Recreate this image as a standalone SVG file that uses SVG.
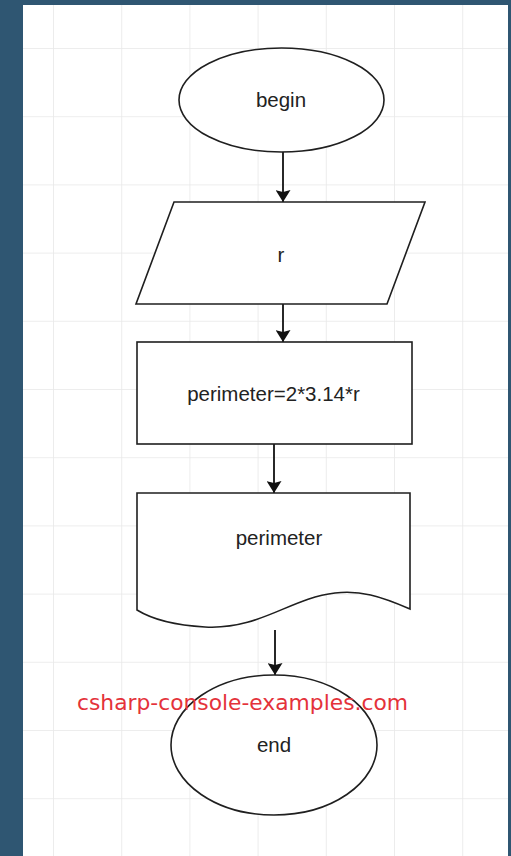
<svg xmlns="http://www.w3.org/2000/svg" width="511" height="856" viewBox="0 0 511 856">
  <defs>
    <pattern id="grid" x="53" y="48" width="68.2" height="68.2" patternUnits="userSpaceOnUse">
      <path d="M0 0V68.2M0 0H68.2" fill="none" stroke="#e8e8e8" stroke-width="1.6"/>
    </pattern>
    <marker id="arrow" viewBox="0 0 12 15" refX="12" refY="7.5" markerWidth="12" markerHeight="15" markerUnits="userSpaceOnUse" orient="auto">
      <path d="M0 0L12 7.5L0 15L2 7.5Z" fill="#111"/>
    </marker>
  </defs>
  <style>
    .shape { fill: #fff; stroke: #1f1f1f; stroke-width: 1.6; }
    .label { font-family: "Liberation Sans", Arial, sans-serif; font-size: 20.5px; fill: #222; text-anchor: middle; }
    .edge { stroke: #111; stroke-width: 1.8; fill: none; marker-end: url(#arrow); }
    .mark { font-family: "DejaVu Sans", "Liberation Sans", sans-serif; font-size: 21px; fill: #e4323a; }
  </style>

  <!-- frame and canvas -->
  <rect width="511" height="856" fill="#2f5672"/>
  <rect x="23" y="5" width="485" height="851" fill="#fff"/>
  <rect x="23" y="5" width="485" height="851" fill="url(#grid)"/>

  <!-- connectors -->
  <g id="connectors">
    <line class="edge" x1="283" y1="152" x2="283" y2="202"/>
    <line class="edge" x1="283" y1="304" x2="283" y2="342"/>
    <line class="edge" x1="274" y1="444" x2="274" y2="493"/>
    <line class="edge" x1="275" y1="630" x2="275" y2="675"/>
  </g>

  <g id="begin">
    <ellipse class="shape" cx="281.5" cy="100" rx="102.5" ry="52"/>
    <text class="label" x="281" y="107">begin</text>
  </g>

  <g id="input-r">
    <polygon class="shape" points="174,202 425,202 387,304 136,304"/>
    <text class="label" x="281" y="262">r</text>
  </g>

  <g id="compute">
    <rect class="shape" x="137" y="342" width="275" height="102"/>
    <text class="label" x="273.5" y="401">perimeter=2*3.14*r</text>
  </g>

  <g id="output">
    <path class="shape" d="M137 493H410V609C380 596 360 590 335 593C290 598 260 630 205 627C170 625 150 618 137 610Z"/>
    <text class="label" x="279" y="545">perimeter</text>
  </g>

  <g id="end">
    <ellipse class="shape" cx="274" cy="745" rx="103" ry="70"/>
    <text class="label" x="274" y="752">end</text>
  </g>

  <text class="mark" x="77" y="710" textLength="331" lengthAdjust="spacingAndGlyphs">csharp-console-examples.com</text>
</svg>
